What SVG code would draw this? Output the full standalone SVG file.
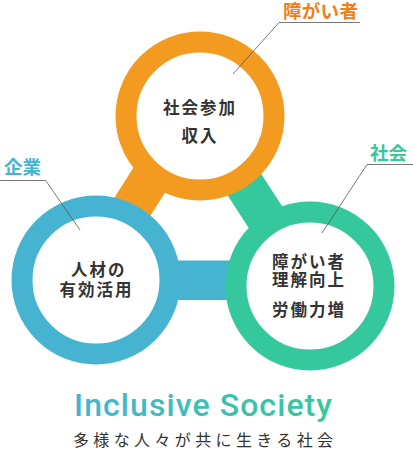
<svg xmlns="http://www.w3.org/2000/svg" width="413" height="450" viewBox="0 0 413 450">
  <defs>
    <linearGradient id="tg" gradientUnits="userSpaceOnUse" x1="74" y1="0" x2="332" y2="0">
      <stop offset="0" stop-color="#46B4D1"/>
      <stop offset="1" stop-color="#36C89D"/>
    </linearGradient>
    <style>
      .ring { fill: #fff; stroke-width: 21; }
      .t { font-family: "Noto Sans CJK JP", "Noto Sans", sans-serif; font-weight: 700; font-size: 16.5px; fill: #333; letter-spacing: 2px; }
      .lab { font-family: "Noto Sans CJK JP", "Noto Sans", sans-serif; font-weight: 700; font-size: 18.5px; }
      .lead { fill: none; stroke: #555; stroke-width: 0.8; }
    </style>
  </defs>
  <rect width="413" height="450" fill="#fff"/>
  <g id="connectors">
    <line x1="193" y1="111" x2="110" y2="242" stroke="#F39A21" stroke-width="40"/>
    <line x1="200" y1="116" x2="310" y2="286" stroke="#36C89D" stroke-width="40"/>
    <rect x="150" y="260.5" width="120" height="39.5" fill="#46B4D1"/>
  </g>
  <g id="node-disabled">
    <circle class="ring" cx="200" cy="116" r="74" stroke="#F39A21"/>
    <text class="t" x="163" y="114">社会参加</text>
    <text class="t" x="181.5" y="142">収入</text>
  </g>
  <g id="node-company">
    <circle class="ring" cx="96" cy="280" r="74" stroke="#46B4D1"/>
    <text class="t" x="71" y="276">人材の</text>
    <text class="t" x="59.5" y="296">有効活用</text>
  </g>
  <g id="node-society">
    <circle class="ring" cx="310" cy="286" r="74" stroke="#36C89D"/>
    <text class="t" x="272" y="268">障がい者</text>
    <text class="t" x="272" y="286">理解向上</text>
    <text class="t" x="272" y="316">労働力増</text>
  </g>
  <g id="label-disabled">
    <polyline class="lead" points="360,22.5 279,22.5 233,74"/>
    <text class="lab" x="283" y="17.5" fill="#F07E1B" letter-spacing="0.3">障がい者</text>
  </g>
  <g id="label-company">
    <polyline class="lead" points="0,180.5 45.7,180.5 80,230"/>
    <text class="lab" x="4" y="174" fill="#46B4D1">企業</text>
  </g>
  <g id="label-society">
    <polyline class="lead" points="413,164.5 367,164.5 322,233"/>
    <text class="lab" x="370" y="160" fill="#36C89D">社会</text>
  </g>
  <g id="title">
    <text x="74" y="416" font-family="Roboto, 'Noto Sans', sans-serif" font-weight="500" font-size="32" fill="url(#tg)" textLength="258" lengthAdjust="spacing">Inclusive Society</text>
    <text x="73" y="446" font-family="'Noto Sans CJK JP', sans-serif" font-weight="400" font-size="16" fill="#333" textLength="260" lengthAdjust="spacing">多様な人々が共に生きる社会</text>
  </g>
</svg>
